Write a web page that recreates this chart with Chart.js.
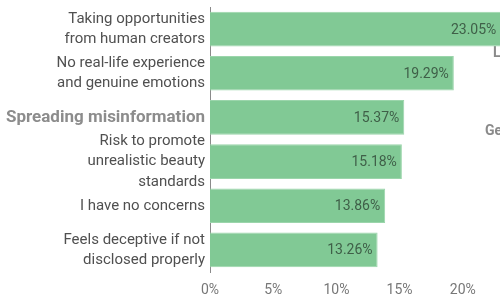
<!DOCTYPE html>
<html>
<head>
<meta charset="utf-8">
<script src="https://cdn.jsdelivr.net/npm/chart.js"></script>
<style>
  html, body { margin: 0; padding: 0; background: #fff; overflow: hidden; width: 500px; height: 297px; }
  #wrap { position: absolute; left: 0; top: 0; width: 540px; height: 297px; }
</style>
</head>
<body>
<div id="wrap"><canvas id="myChart" width="540" height="297"></canvas></div>
<script>
const labels = [
  ['Taking opportunities', 'from human creators'],
  ['No real-life experience', 'and genuine emotions'],
  'Spreading misinformation',
  ['Risk to promote', 'unrealistic beauty', 'standards'],
  'I have no concerns',
  ['Feels deceptive if not', 'disclosed properly']
];
const values = [23.05, 19.29, 15.37, 15.18, 13.86, 13.26];
const xTicks = [0, 5, 10, 15, 20, 25];
// bits of text peeking in from the right edge of the original
const strayTexts = [['L', 493, 53], ['Ge', 485, 131]];

const valueLabels = {
  id: 'valueLabels',
  beforeDatasetsDraw(chart) {
    const c = chart.ctx;
    c.save();
    c.font = 'bold 14px Roboto';
    c.fillStyle = '#8a8a8a';
    c.textBaseline = 'middle';
    strayTexts.forEach(t => c.fillText(t[0], t[1], t[2]));
    c.restore();
  },
  afterDatasetsDraw(chart) {
    const c = chart.ctx;
    const meta = chart.getDatasetMeta(0);
    c.save();
    c.font = '14px Roboto';
    c.fillStyle = '#3f5f48';
    c.textAlign = 'right';
    c.textBaseline = 'middle';
    meta.data.forEach((bar, i) => {
      c.fillText(values[i].toFixed(2) + '%', bar.x - 5, bar.y + 1);
    });
    c.restore();
  }
};

new Chart(document.getElementById('myChart'), {
  type: 'bar',
  data: {
    labels: labels,
    datasets: [{
      data: values,
      backgroundColor: '#81c995',
      borderColor: '#9bd5ab',
      borderWidth: 1,
      categoryPercentage: 0.88,
      barPercentage: 0.89
    }]
  },
  options: {
    indexAxis: 'y',
    responsive: false,
    animation: false,
    layout: { padding: { top: 7, right: 14, bottom: 0, left: 0 } },
    plugins: { legend: { display: false }, tooltip: { enabled: false } },
    scales: {
      x: {
        min: 0,
        max: 25,
        afterBuildTicks(s) { s.ticks = xTicks.map(v => ({ value: v })); },
        afterFit(s) { s.height = 25; s.paddingLeft = 0; s.paddingRight = 0; },
        grid: { display: false, drawTicks: false },
        border: { display: false },
        ticks: {
          padding: 10,
          maxRotation: 0,
          color: '#777777',
          font: { family: 'Roboto', size: 14 },
          callback: v => v + '%'
        }
      },
      y: {
        afterFit(s) { s.width = 210; s.paddingTop = 0; s.paddingBottom = 0; },
        grid: { display: false, drawTicks: false },
        border: { display: true, color: '#8a8a8a', width: 1 },
        ticks: {
          autoSkip: false,
          padding: 5,
          color: ctx => ctx.index === 2 ? '#8c8c8c' : '#505050',
          font: ctx => ({
            family: 'Roboto',
            size: ctx.index === 2 ? 17 : 15,
            weight: ctx.index === 2 ? 'bold' : 'normal',
            lineHeight: 1.35
          })
        }
      }
    }
  },
  plugins: [valueLabels]
});
</script>
</body>
</html>
